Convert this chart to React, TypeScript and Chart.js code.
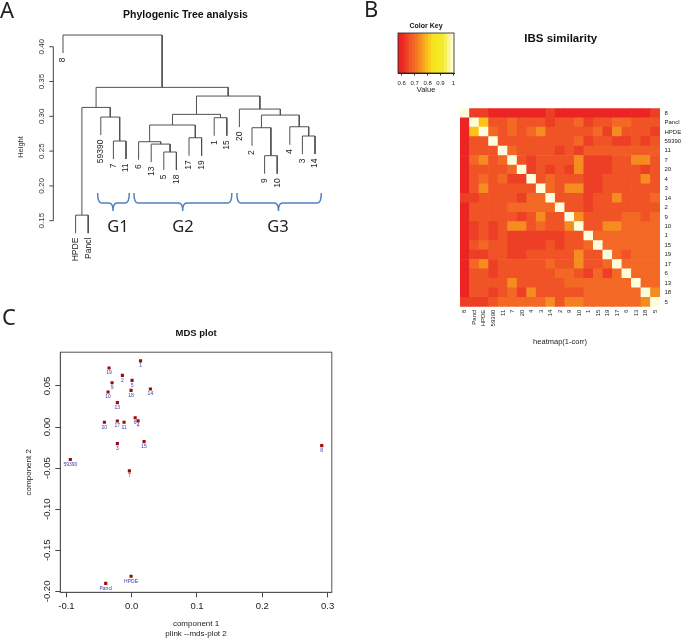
import React, { useEffect, useRef } from 'react';
import { Chart, registerables } from 'chart.js';

Chart.register(...registerables);
Chart.defaults.font.family = '"Liberation Sans", Arial, sans-serif';
Chart.defaults.color = '#222';

const SANS = '"Liberation Sans", Arial, sans-serif';
const LETTER = '"Noto Sans", "DejaVu Sans", sans-serif';

// ================= Panel A : dendrogram =================
const leafLabels = ['8', 'HPDE', 'Pancl', '59390', '7', '11', '6', '13', '5', '18', '17', '19', '1', '15', '20', '2', '9', '10', '4', '3', '14'];
// negative = leaf position (1-based, left to right), positive = earlier merge (1-based)
const mergeLeft = [-2, -17, -9, -8, -7, -5, -11, -20, -16, -19, 5, -13, -4, 9, 11, -15, 1, 15, 17, -1];
const mergeRight = [-3, -18, -10, 3, 4, -6, -12, -21, 2, 8, 7, -14, 6, 10, 12, 14, 13, 16, 18, 19];
const mergeHeight = [0.158, 0.2434, 0.2487, 0.2601, 0.2635, 0.2645, 0.2692, 0.2717, 0.2836, 0.285, 0.2875, 0.298, 0.2989, 0.3018, 0.3028, 0.3104, 0.3128, 0.3291, 0.3416, 0.4168];
const leafHang = 0.0259;
const heightTicks = [0.15, 0.2, 0.25, 0.3, 0.35, 0.4];
const groupNames = ['G1', 'G2', 'G3'];
const groupFrom = [3.75, 6.63, 14.8];
const groupTo = [6.26, 14.4, 21.5];
const groupTip = [4.97, 10.5, 18.1];
const groupLabelX = [5.37, 10.52, 18.06];
const braceTop = 0.1898;
const braceMid = 0.1754;
const braceTip = 0.164;
const groupLabelY = 0.141;

// ================= Panel B : IBS heatmap =================
const ibsLabels = ['8', 'Pancl', 'HPDE', '59390', '11', '7', '20', '4', '3', '14', '2', '9', '10', '1', '15', '19', '17', '6', '13', '18', '5'];
const ibs_8 = [1, .63, .63, .6, .6, .6, .6, .6, .6, .63, .6, .6, .6, .6, .6, .6, .6, .6, .6, .6, .63];
const ibs_Pancl = [.6, 1, .8, .66, .66, .69, .66, .66, .66, .63, .66, .66, .69, .63, .66, .66, .69, .69, .66, .66, .66];
const ibs_HPDE = [.6, .8, 1, .69, .66, .69, .66, .69, .74, .66, .66, .66, .66, .66, .69, .63, .74, .66, .66, .66, .63];
const ibs_59390 = [.6, .66, .66, 1, .66, .66, .66, .66, .66, .66, .66, .66, .69, .63, .66, .66, .63, .63, .66, .63, .66];
const ibs_11 = [.6, .66, .66, .66, 1, .69, .66, .66, .66, .66, .63, .66, .63, .67, .67, .67, .67, .67, .67, .67, .67];
const ibs_7 = [.6, .69, .74, .66, .69, 1, .66, .63, .66, .66, .66, .66, .74, .63, .63, .63, .66, .66, .74, .74, .66];
const ibs_20 = [.6, .66, .66, .66, .66, .69, 1, .63, .66, .63, .66, .63, .74, .63, .63, .63, .66, .66, .66, .63, .66];
const ibs_4 = [.6, .66, .69, .66, .69, .63, .63, 1, .66, .69, .66, .66, .66, .63, .63, .66, .66, .66, .66, .74, .66];
const ibs_3 = [.6, .66, .74, .66, .66, .66, .66, .66, 1, .69, .66, .74, .74, .63, .63, .66, .66, .66, .66, .66, .66];
const ibs_14 = [.63, .63, .66, .66, .66, .66, .63, .69, .69, 1, .66, .66, .66, .63, .66, .66, .74, .66, .66, .66, .69];
const ibs_2 = [.6, .66, .66, .66, .66, .69, .69, .69, .69, .69, 1, .66, .66, .63, .66, .66, .66, .66, .66, .66, .66];
const ibs_9 = [.6, .66, .66, .66, .66, .66, .63, .66, .74, .66, .66, 1, .74, .66, .66, .66, .66, .69, .69, .66, .69];
const ibs_10 = [.6, .63, .66, .63, .66, .74, .74, .66, .69, .66, .66, .74, 1, .66, .66, .74, .74, .69, .69, .69, .69];
const ibs_1 = [.6, .63, .66, .63, .66, .63, .63, .63, .63, .63, .63, .66, .66, 1, .69, .69, .69, .69, .69, .69, .69];
const ibs_15 = [.6, .66, .69, .66, .66, .63, .63, .63, .63, .66, .63, .66, .66, .69, 1, .69, .69, .69, .69, .69, .69];
const ibs_19 = [.6, .63, .63, .66, .66, .63, .63, .66, .66, .66, .66, .66, .74, .66, .66, 1, .69, .66, .69, .69, .69];
const ibs_17 = [.6, .69, .74, .63, .66, .66, .66, .66, .66, .69, .66, .66, .74, .66, .66, .69, 1, .69, .69, .69, .69];
const ibs_6 = [.6, .66, .66, .63, .66, .66, .66, .66, .66, .66, .69, .69, .66, .63, .69, .63, .69, 1, .69, .69, .69];
const ibs_13 = [.6, .66, .66, .66, .66, .74, .66, .66, .66, .66, .66, .69, .69, .69, .69, .69, .69, .69, 1, .69, .69];
const ibs_18 = [.6, .66, .66, .63, .66, .69, .63, .74, .66, .66, .66, .66, .66, .69, .69, .69, .69, .69, .69, 1, .74];
const ibs_5 = [.63, .63, .63, .66, .69, .69, .69, .69, .69, .74, .66, .72, .72, .69, .69, .69, .69, .69, .69, .74, 1];
const ibsRows = [ibs_8, ibs_Pancl, ibs_HPDE, ibs_59390, ibs_11, ibs_7, ibs_20, ibs_4, ibs_3, ibs_14, ibs_2, ibs_9, ibs_10, ibs_1, ibs_15, ibs_19, ibs_17, ibs_6, ibs_13, ibs_18, ibs_5];
const keyBreaks = [0.571, 0.6, 0.625, 0.65, 0.675, 0.7, 0.725, 0.75, 0.775, 0.8, 0.825, 0.85, 0.875, 0.9, 0.925, 0.95, 0.975, 1.005];
const keyTicks = [0.6, 0.7, 0.8, 0.9, 1.0];

// colour scale (heat colours)
const heatStops = [0.6, 0.63, 0.66, 0.69, 0.74, 0.8, 0.84, 0.92, 0.96, 1.0];
const heatRGB = [[236, 36, 36], [237, 62, 38], [240, 84, 38], [242, 104, 36], [245, 140, 32], [249, 195, 26], [245, 228, 30], [244, 236, 40], [250, 245, 140], [255, 254, 220]];
function heatColor(v: number): string {
  const toS = (c: number[]) => `rgb(${Math.round(c[0])},${Math.round(c[1])},${Math.round(c[2])})`;
  if (v <= heatStops[0]) return toS(heatRGB[0]);
  for (let i = 1; i < heatStops.length; i++) {
    if (v <= heatStops[i]) {
      const t = (v - heatStops[i - 1]) / (heatStops[i] - heatStops[i - 1]);
      const a = heatRGB[i - 1], b = heatRGB[i];
      return toS([a[0] + (b[0] - a[0]) * t, a[1] + (b[1] - a[1]) * t, a[2] + (b[2] - a[2]) * t]);
    }
  }
  return toS(heatRGB[heatRGB.length - 1]);
}

// ================= Panel C : MDS =================
const mdsLabels = ['1', '19', '2', '5', '9', '14', '18', '10', '13', '6', '4', '17', '11', '20', '3', '15', '8', '59390', '7', 'HPDE', 'Pancl'];
const mdsX = [0.0135, -0.0347, -0.0143, 0.0005, -0.0301, 0.0286, -0.001, -0.0363, -0.022, 0.0053, 0.0097, -0.022, -0.0117, -0.0419, -0.022, 0.0189, 0.2911, -0.094, -0.0036, -0.001, -0.0398];
const mdsY = [0.0805, 0.0717, 0.0628, 0.0567, 0.0538, 0.0462, 0.0445, 0.0425, 0.0296, 0.0112, 0.0075, 0.0073, 0.0057, 0.0057, -0.0202, -0.0178, -0.0227, -0.0395, -0.0534, -0.1815, -0.1903];
const mdsXTicks = [-0.1, 0, 0.1, 0.2, 0.3];
const mdsYTicks = [-0.2, -0.15, -0.1, -0.05, 0, 0.05];

// ---------- helpers ----------
function txt(ctx: CanvasRenderingContext2D, s: string, x: number, y: number, font: string, color = '#222', align: CanvasTextAlign = 'center', rot = 0) {
  ctx.save();
  ctx.translate(x, y);
  if (rot) ctx.rotate(rot);
  ctx.font = font;
  ctx.fillStyle = color;
  ctx.textAlign = align;
  ctx.textBaseline = 'middle';
  ctx.fillText(s, 0, 0);
  ctx.restore();
}

function buildDendro() {
  const nodeX: number[] = [];
  const parentH: number[] = new Array(leafLabels.length + 1).fill(0);
  const segs: { x: number; y: number }[][] = [];
  const cx = (c: number) => (c < 0 ? -c : nodeX[c - 1]);
  const cy = (c: number, h: number) => (c < 0 ? h - leafHang : mergeHeight[c - 1]);
  mergeHeight.forEach((h, i) => {
    const l = mergeLeft[i], r = mergeRight[i];
    const xl = cx(l), xr = cx(r);
    nodeX[i] = (xl + xr) / 2;
    if (l < 0) parentH[-l] = h;
    if (r < 0) parentH[-r] = h;
    segs.push([{ x: xl, y: cy(l, h) }, { x: xl, y: h }, { x: xr, y: h }, { x: xr, y: cy(r, h) }]);
  });
  return { segs, parentH };
}

export default function App() {
  const aRef = useRef<HTMLCanvasElement>(null);
  const hRef = useRef<HTMLCanvasElement>(null);
  const kRef = useRef<HTMLCanvasElement>(null);
  const cRef = useRef<HTMLCanvasElement>(null);

  useEffect(() => {
    const charts: Chart[] = [];
    const { segs, parentH } = buildDendro();

    // ----- A -----
    const dendroPlugin = {
      id: 'dendroDecor',
      afterDraw(chart: any) {
        const { ctx, scales } = chart;
        const x = scales.x, y = scales.y;
        const ax = x.getPixelForValue(0.23);
        ctx.save();
        ctx.strokeStyle = '#444';
        ctx.lineWidth = 1;
        ctx.beginPath();
        ctx.moveTo(ax, y.getPixelForValue(0.15));
        ctx.lineTo(ax, y.getPixelForValue(0.4));
        heightTicks.forEach((t) => {
          const py = y.getPixelForValue(t);
          ctx.moveTo(ax, py);
          ctx.lineTo(ax - 4, py);
        });
        ctx.stroke();
        ctx.restore();
        heightTicks.forEach((t) => txt(ctx, t.toFixed(2), ax - 11.5, y.getPixelForValue(t), `8px ${SANS}`, '#333', 'center', -Math.PI / 2));
        txt(ctx, 'Height', 21, 147, `7.5px ${SANS}`, '#333', 'center', -Math.PI / 2);
        leafLabels.forEach((lab, i) => {
          const px = x.getPixelForValue(i + 1);
          const py = y.getPixelForValue(parentH[i + 1] - leafHang) + 4.5;
          txt(ctx, lab, px, py, `8.5px ${SANS}`, '#222', 'right', -Math.PI / 2);
        });
        ctx.save();
        ctx.strokeStyle = '#4F81BD';
        ctx.lineWidth = 1.5;
        const yT = y.getPixelForValue(braceTop), yM = y.getPixelForValue(braceMid), yB = y.getPixelForValue(braceTip);
        const r = 4;
        groupNames.forEach((g, i) => {
          const x0 = x.getPixelForValue(groupFrom[i]), x1 = x.getPixelForValue(groupTo[i]), xc = x.getPixelForValue(groupTip[i]);
          ctx.beginPath();
          ctx.moveTo(x0, yT);
          ctx.quadraticCurveTo(x0, yM, x0 + r, yM);
          ctx.lineTo(xc - r, yM);
          ctx.quadraticCurveTo(xc, yM, xc, yB);
          ctx.moveTo(x1, yT);
          ctx.quadraticCurveTo(x1, yM, x1 - r, yM);
          ctx.lineTo(xc + r, yM);
          ctx.quadraticCurveTo(xc, yM, xc, yB);
          ctx.stroke();
        });
        ctx.restore();
        groupNames.forEach((g, i) => txt(ctx, g, x.getPixelForValue(groupLabelX[i]), y.getPixelForValue(groupLabelY), `16.5px ${LETTER}`, '#222'));
        txt(ctx, 'Phylogenic Tree analysis', 185.5, 15.5, `bold 10.5px ${SANS}`, '#111');
        txt(ctx, 'A', 0, 12, `22px ${LETTER}`, '#222', 'left');
      },
    };
    charts.push(new Chart(aRef.current!, {
      type: 'scatter',
      data: {
        datasets: segs.map((s) => ({
          data: s,
          showLine: true,
          borderColor: '#505050',
          borderWidth: 1,
          pointRadius: 0,
          pointHoverRadius: 0,
          fill: false,
        })),
      },
      options: {
        animation: false,
        responsive: false,
        events: [],
        layout: { padding: { left: 50.4, right: 22.4, top: 32.8, bottom: 44.5 } },
        scales: {
          x: { type: 'linear', min: 0, max: 22, display: false },
          y: { type: 'linear', min: 0.1, max: 0.42, display: false },
        },
        plugins: { legend: { display: false }, tooltip: { enabled: false } },
      },
      plugins: [dendroPlugin],
    } as any));

    // ----- B heatmap -----
    const rowsUp = [...ibsRows].reverse();
    const labsUp = [...ibsLabels].reverse();
    const heatPlugin = {
      id: 'heatDecor',
      afterDraw(chart: any) {
        const { ctx } = chart;
        txt(ctx, 'IBS similarity', 210.7, 39, `bold 11.5px ${SANS}`, '#111');
        txt(ctx, 'B', 14, 11, `22px ${LETTER}`, '#222', 'left');
      },
    };
    charts.push(new Chart(hRef.current!, {
      type: 'bar',
      data: {
        labels: ibsLabels,
        datasets: rowsUp.map((row, k) => ({
          label: labsUp[k],
          data: row.map(() => 1),
          backgroundColor: row.map((v) => heatColor(v)),
          borderWidth: 0,
          barPercentage: 1,
          categoryPercentage: 1,
          yAxisID: 'y',
        })),
      },
      options: {
        animation: false,
        responsive: false,
        events: [],
        layout: { padding: { left: 110, right: 0, top: 108.3, bottom: 0 } },
        scales: {
          x: {
            type: 'category',
            stacked: true,
            grid: { display: false, drawTicks: false },
            border: { display: false },
            ticks: { autoSkip: false, minRotation: 90, maxRotation: 90, padding: 3, font: { size: 6 }, color: '#222' },
            title: { display: true, text: 'heatmap(1-corr)', font: { size: 7.5 }, color: '#222', padding: { top: 0, bottom: 13.5 } },
            afterFit: (s: any) => { s.height = 53.3; },
          },
          y: { type: 'linear', stacked: true, min: 0, max: 21, display: false },
          yr: {
            type: 'category',
            labels: ibsLabels,
            position: 'right',
            offset: true,
            grid: { display: false, drawTicks: false },
            border: { display: false },
            ticks: { autoSkip: false, padding: 4.5, font: { size: 6 }, color: '#222' },
            afterFit: (s: any) => { s.width = 40; },
          },
        },
        plugins: { legend: { display: false }, tooltip: { enabled: false } },
      },
      plugins: [heatPlugin],
    } as any));

    // ----- B colour key -----
    const keyPlugin = {
      id: 'keyDecor',
      afterDraw(chart: any) {
        const { ctx, chartArea } = chart;
        ctx.save();
        ctx.strokeStyle = '#222';
        ctx.lineWidth = 0.8;
        ctx.strokeRect(chartArea.left, chartArea.top, chartArea.right - chartArea.left, chartArea.bottom - chartArea.top);
        ctx.restore();
        txt(ctx, 'Color Key', (chartArea.left + chartArea.right) / 2, 11, `bold 7px ${SANS}`, '#111');
      },
    };
    charts.push(new Chart(kRef.current!, {
      type: 'bar',
      data: {
        labels: ['key'],
        datasets: keyBreaks.slice(0, -1).map((lo, i) => ({
          data: [[lo, keyBreaks[i + 1]]],
          backgroundColor: heatColor((lo + keyBreaks[i + 1]) / 2),
          borderWidth: 0,
          grouped: false,
          barPercentage: 1,
          categoryPercentage: 1,
        })),
      },
      options: {
        animation: false,
        responsive: false,
        events: [],
        indexAxis: 'y',
        layout: { padding: { left: 18, right: 26, top: 18, bottom: 0 } },
        scales: {
          x: {
            type: 'linear',
            min: keyBreaks[0],
            max: keyBreaks[keyBreaks.length - 1],
            afterBuildTicks: (a: any) => { a.ticks = keyTicks.map((v) => ({ value: v })); },
            ticks: { font: { size: 6 }, color: '#222', padding: 3.9, autoSkip: false, minRotation: 0, maxRotation: 0, callback: (v: any) => String(Number(v)) },
            grid: { drawOnChartArea: false, tickLength: 2.5, color: '#222' },
            border: { color: '#222' },
            title: { display: true, text: 'Value', font: { size: 7.5 }, color: '#222', padding: { top: 0, bottom: 5.5 } },
            afterFit: (s: any) => { s.height = 27; },
          },
          y: { display: false },
        },
        plugins: { legend: { display: false }, tooltip: { enabled: false } },
      },
      plugins: [keyPlugin],
    } as any));

    // ----- C MDS -----
    const mdsPlugin = {
      id: 'mdsDecor',
      afterDraw(chart: any) {
        const { ctx, chartArea, scales } = chart;
        ctx.save();
        ctx.strokeStyle = '#555';
        ctx.lineWidth = 1;
        ctx.strokeRect(chartArea.left, chartArea.top, chartArea.right - chartArea.left, chartArea.bottom - chartArea.top);
        ctx.restore();
        mdsYTicks.forEach((t) => txt(ctx, t.toFixed(2), 47, scales.y.getPixelForValue(t), `9.5px ${SANS}`, '#222', 'center', -Math.PI / 2));
        const meta = chart.getDatasetMeta(0);
        meta.data.forEach((pt: any, i: number) => {
          txt(ctx, mdsLabels[i], pt.x, pt.y + 5, `5px ${SANS}`, '#3a3ab5');
        });
        txt(ctx, 'MDS plot', (chartArea.left + chartArea.right) / 2, 33, `bold 9.5px ${SANS}`, '#111');
        txt(ctx, 'C', 2, 19, `22px ${LETTER}`, '#222', 'left');
      },
    };
    charts.push(new Chart(cRef.current!, {
      type: 'scatter',
      data: {
        datasets: [{
          data: mdsX.map((v, i) => ({ x: v, y: mdsY[i] })),
          pointStyle: 'rect',
          pointRadius: 2.2,
          pointHoverRadius: 2.2,
          backgroundColor: '#9a0a0a',
          borderColor: '#9a0a0a',
          borderWidth: 0,
        }],
      },
      options: {
        animation: false,
        responsive: false,
        events: [],
        layout: { padding: { left: 0, right: 18.2, top: 52.2, bottom: 0 } },
        scales: {
          x: {
            type: 'linear',
            min: -0.1094,
            max: 0.3065,
            afterBuildTicks: (a: any) => { a.ticks = mdsXTicks.map((v) => ({ value: v })); },
            ticks: { font: { size: 9.5 }, color: '#222', padding: 3, callback: (v: any) => Number(v).toFixed(1) },
            grid: { drawOnChartArea: false, tickLength: 5, color: '#444' },
            border: { color: '#444' },
            title: { display: true, text: ['component 1', 'plink --mds-plot 2'], font: { size: 8 }, color: '#222', padding: { top: 0, bottom: 5.4 } },
            afterFit: (s: any) => { s.height = 51.7; },
          },
          y: {
            type: 'linear',
            min: -0.2011,
            max: 0.091,
            afterBuildTicks: (a: any) => { a.ticks = mdsYTicks.map((v) => ({ value: v })); },
            ticks: { display: false },
            grid: { drawOnChartArea: false, tickLength: 5, color: '#444' },
            border: { color: '#444' },
            title: { display: true, text: 'component 2', font: { size: 8 }, color: '#222', padding: { top: 23.5, bottom: 0 } },
            afterFit: (s: any) => { s.width = 60.3; },
          },
        },
        plugins: { legend: { display: false }, tooltip: { enabled: false } },
      },
      plugins: [mdsPlugin],
    } as any));

    return () => charts.forEach((c) => c.destroy());
  }, []);

  return (
    <div style={{ position: 'absolute', left: 0, top: 0, width: 700, height: 644, background: '#fff', overflow: 'hidden' }}>
      <canvas ref={aRef} width={350} height={300} style={{ position: 'absolute', left: 0, top: 0 }} />
      <canvas ref={hRef} width={350} height={360} style={{ position: 'absolute', left: 350, top: 0 }} />
      <canvas ref={kRef} width={100} height={85} style={{ position: 'absolute', left: 380, top: 15 }} />
      <canvas ref={cRef} width={350} height={344} style={{ position: 'absolute', left: 0, top: 300 }} />
    </div>
  );
}
